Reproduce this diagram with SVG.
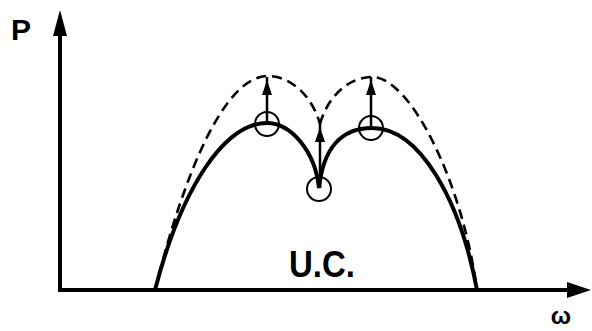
<svg xmlns="http://www.w3.org/2000/svg" width="592" height="331" viewBox="0 0 592 331">
<style>
.axis{stroke:#000;stroke-width:4;fill:none}
.solid{stroke:#000;stroke-width:4;fill:none;stroke-linecap:round}
.dash{stroke:#000;stroke-width:2.6;fill:none;stroke-dasharray:10 6}
.ring{stroke:#000;stroke-width:2;fill:none}
.shaft{stroke:#000;stroke-width:2.5;fill:none}
.head{fill:#000}
.lbl{font-family:"Liberation Sans",Arial,sans-serif;font-weight:bold;fill:#000}
</style>
<rect width="592" height="331" fill="#fff"/>
<g id="axes">
<line class="axis" x1="60" y1="290" x2="60" y2="30"/>
<polygon class="head" points="60,10 53,36 67,36"/>
<line class="axis" x1="58" y1="290" x2="572" y2="290"/>
<polygon class="head" points="591,290 567,282 567,298"/>
</g>
<g id="curves">
<path class="solid" d="M155,290 C182,186 225,123 267,123 C290,123 315,150 319,188 C323,150 340,128 372,128 C420,128 460,200 477,290"/>
<path class="dash" d="M155,290 C185,170 225,76 268,76 C290,76 312,95 320,124"/>
<path class="dash" d="M320,124 C328,95 350,77 372,77 C410,77 462,180 477,290"/>
</g>
<g id="markers">
<circle class="ring" cx="267" cy="124" r="12"/>
<circle class="ring" cx="371" cy="128" r="12"/>
<circle class="ring" cx="319" cy="189" r="12"/>
</g>
<g id="arrows">
<line class="shaft" x1="267" y1="124" x2="267" y2="77"/>
<polygon class="head" points="267,80 262,95 272,95"/>
<line class="shaft" x1="371" y1="128" x2="371" y2="77"/>
<polygon class="head" points="371,80 366,95 376,95"/>
<line class="shaft" x1="320" y1="188" x2="320" y2="123"/>
<polygon class="head" points="320,127 315,142 325,142"/>
</g>
<g id="labels">
<text class="lbl" x="11" y="40" font-size="30">P</text>
<text class="lbl" x="289" y="277" font-size="37" textLength="66" lengthAdjust="spacingAndGlyphs">U.C.</text>
<text class="lbl" x="561" y="324" font-size="24" text-anchor="middle">ω</text>
</g>
</svg>
